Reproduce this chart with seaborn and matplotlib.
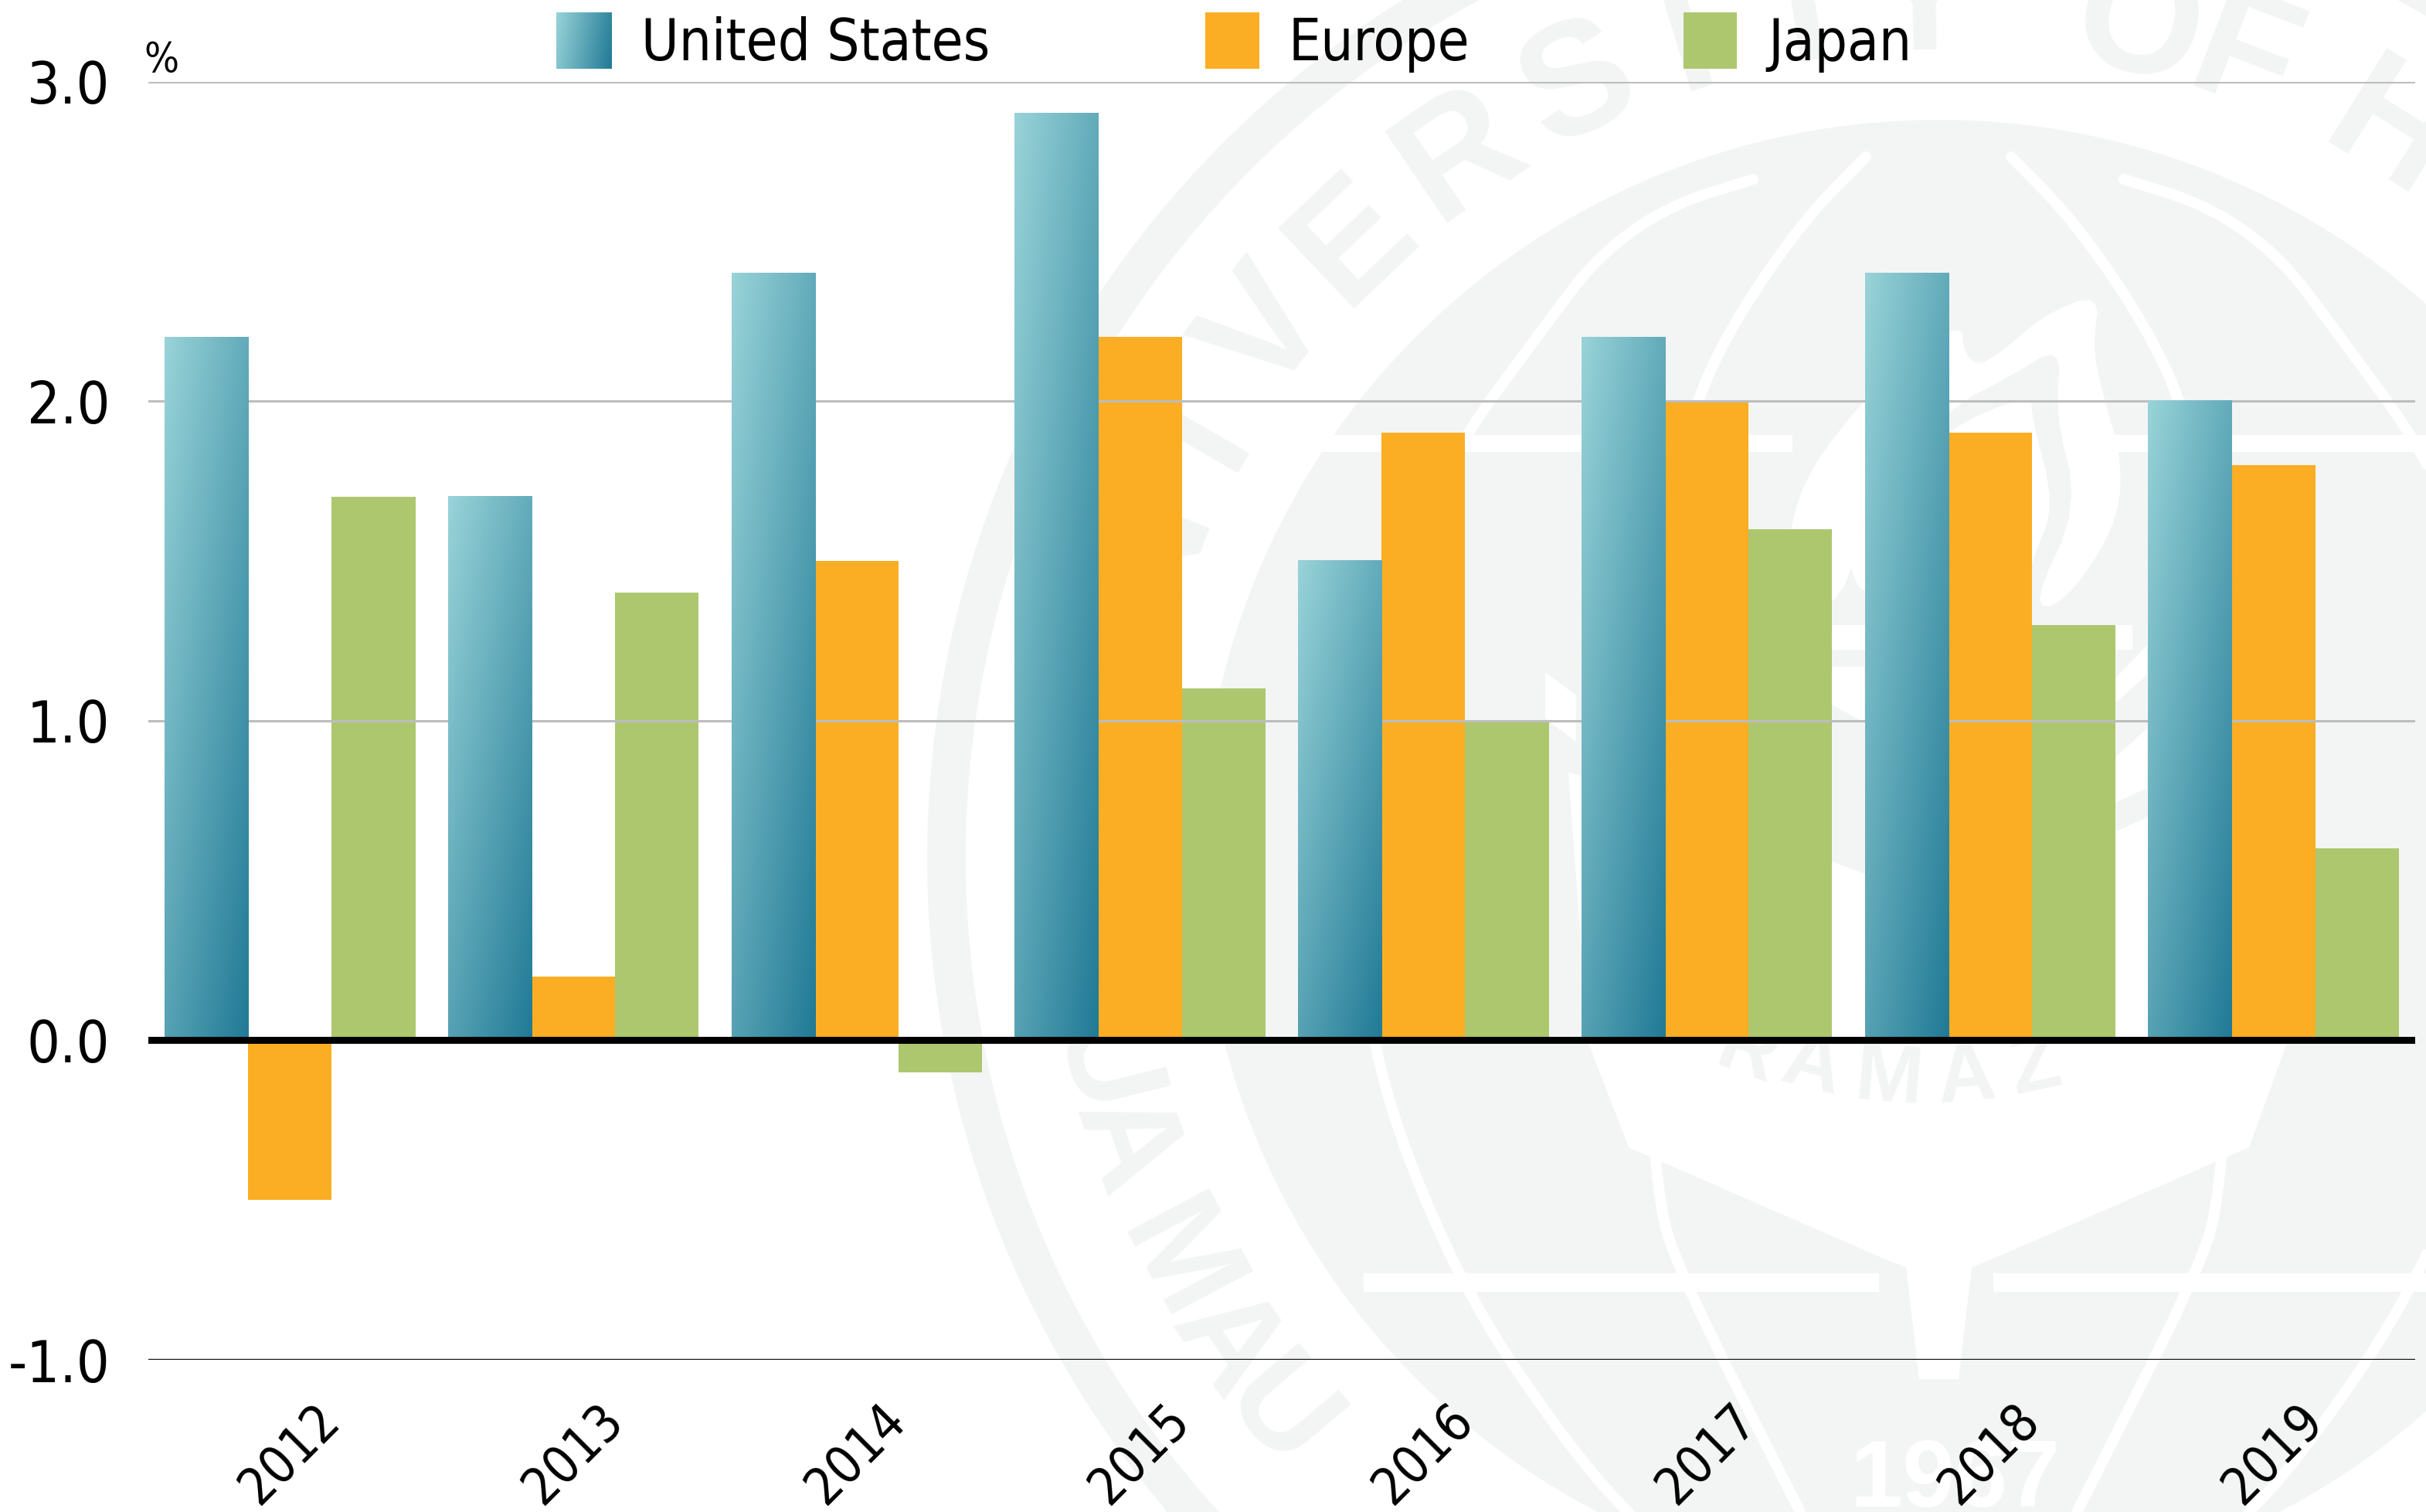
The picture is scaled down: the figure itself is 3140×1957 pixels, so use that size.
# %%
# Load libraries
import numpy as np
import pandas as pd
import matplotlib.pyplot as plt
import seaborn as sns
from matplotlib.colors import LinearSegmentedColormap
from matplotlib.patches import Circle, Polygon, Rectangle

# %%
# Data
years = ['2012', '2013', '2014', '2015', '2016', '2017', '2018', '2019']
united_states = [2.2, 1.7, 2.4, 2.9, 1.5, 2.2, 2.4, 2.0]
europe = [-0.5, 0.2, 1.5, 2.2, 1.9, 2.0, 1.9, 1.8]
japan = [1.7, 1.4, -0.1, 1.1, 1.0, 1.6, 1.3, 0.6]
regions = ['United States', 'Europe', 'Japan']
y_ticks = [-1.0, 0.0, 1.0, 2.0, 3.0]
y_tick_labels = ['-1.0', '0.0', '1.0', '2.0', '3.0']

ORANGE = '#fbae23'
GREEN = '#adc76f'
SEAL = '#f3f5f4'
W, H = 3140, 1957
teal = LinearSegmentedColormap.from_list('teal', ['#98d3d8', '#217a96'])

sns.set_theme(style='white')
plt.rcParams['font.family'] = ['DejaVu Sans']
plt.rcParams['font.stretch'] = 'condensed'

fig = plt.figure(figsize=(W / 100, H / 100), dpi=100, facecolor='white')


# rounds off the corners of the seal outlines
def smooth(pts, closed=False, rounds=3):
    pts = np.array(pts, dtype=float)
    for _ in range(rounds):
        nxt = np.roll(pts, -1, axis=0) if closed else pts[1:]
        cur = pts if closed else pts[:-1]
        q = 0.75 * cur + 0.25 * nxt
        r = 0.25 * cur + 0.75 * nxt
        mid = np.empty((len(q) * 2, 2))
        mid[0::2] = q
        mid[1::2] = r
        pts = mid if closed else np.vstack([pts[0], mid, pts[-1]])
    return pts


# %%
# Background seal, in pixel coordinates
bg = fig.add_axes([0, 0, 1, 1], zorder=0)
bg.set_xlim(0, W)
bg.set_ylim(H, 0)
bg.axis('off')
cx, cy = 2509, 1110

bg.add_patch(Circle((cx, cy), 1309, fc=SEAL, ec='none'))
bg.add_patch(Circle((cx, cy), 1259, fc='white', ec='none'))
disk = Circle((cx, cy), 955, fc=SEAL, ec='none')
bg.add_patch(disk)

# meridians, narrowing to a tip at the top
outer_y = [232, 266, 330, 421, 600, 800, 1110, 1352, 1655, 1891, 2000]
outer_dx = [240, 349, 440, 509, 640, 715, 745, 741, 626, 466, 360]
inner_y = [203, 280, 400, 513, 700, 900, 1110, 1543, 1649, 1957]
inner_dx = [94, 170, 255, 313, 365, 385, 390, 367, 335, 179]
for ys, dxs in [(outer_y, outer_dx), (inner_y, inner_dx)]:
    curve = smooth(list(zip(dxs, ys)))
    for sign in (-1, 1):
        line, = bg.plot(cx + sign * curve[:, 0], curve[:, 1], color='white', lw=10,
                        solid_capstyle='round')
        line.set_clip_path(disk)

# horizontal bars
for x0, x1, y0, y1 in [(1540, 2320, 563, 585), (2690, W, 563, 585),
                       (1765, 2432, 1648, 1672), (2580, W, 1648, 1672),
                       (2360, 2760, 809, 841)]:
    bg.add_patch(Rectangle((x0, y0), x1 - x0, y1 - y0, fc='white', ec='none'))

# central shield and needle
bg.add_patch(Polygon([(2030, 1000), (2056, 1350), (2108, 1485), (2445, 1632),
                      (2467, 1640), (2484, 1785), (2535, 1785), (2552, 1640),
                      (2573, 1632), (2911, 1485), (2960, 1350), (2990, 1000),
                      (2779, 1058), (2737, 1077), (2620, 1105), (2413, 1131),
                      (2371, 1115), (2240, 1058)], fc='white', ec='none'))
# shield wings
for pts in [[(2340, 863), (2413, 863), (2413, 935), (2340, 895)],
            [(2737, 879), (2779, 835), (2779, 873), (2737, 911)],
            [(2737, 981), (2779, 943), (2779, 1020), (2737, 1039)],
            [(2000, 870), (2040, 900), (2040, 960), (2000, 930)]]:
    bg.add_patch(Polygon(pts, fc='white', ec='none'))

# flame strokes
flame_right = [(2718, 379), (2646, 407), (2588, 458), (2557, 474), (2541, 452), (2539, 420),
               (2480, 450), (2414, 516), (2343, 605), (2316, 682), (2310, 784), (2387, 784),
               (2410, 656), (2521, 529), (2602, 487), (2669, 446), (2660, 535), (2691, 656),
               (2629, 784), (2669, 784), (2736, 688), (2749, 605), (2718, 497), (2709, 446)]
flame_left = [(2629, 509), (2521, 554), (2410, 656), (2387, 784), (2620, 784), (2629, 726),
              (2660, 656), (2630, 541)]
bg.add_patch(Polygon(smooth(flame_right, closed=True, rounds=2), fc='white', ec='none'))
bg.add_patch(Polygon(smooth(flame_left, closed=True, rounds=2), fc='white', ec='none'))

# lettering round the seal
top_letters = ['U', 'N', 'I', 'V', 'E', 'R', 'S', 'I', 'T', 'Y', 'O', 'F', 'H']
top_angles = [-77, -68.5, -60, -52, -43.5, -34.2, -25, -17, -9, -1, 13.6, 21, 32]
for ch, ang in zip(top_letters, top_angles):
    t = np.radians(ang)
    bg.text(cx + 1100 * np.sin(t), cy - 1100 * np.cos(t), ch, rotation=-ang,
            rotation_mode='anchor', ha='center', va='center', fontsize=150,
            color=SEAL, family='Liberation Sans', weight='bold', stretch='normal')
bottom_letters = ['U', 'A', 'M', 'A', 'U']
bottom_angles = [76, 70.6, 62, 55.6, 49.8]
for ch, ang in zip(bottom_letters, bottom_angles):
    t = np.radians(ang)
    bg.text(cx - 1120 * np.sin(t), cy + 1120 * np.cos(t), ch, rotation=-ang,
            rotation_mode='anchor', ha='center', va='center', fontsize=125,
            color=SEAL, family='Liberation Sans', weight='bold', stretch='normal')
for ch, x, y, rot in [('R', 2262, 1365, -20), ('A', 2345, 1382, -14), ('M', 2445, 1398, -5),
                      ('A', 2545, 1398, 5), ('Z', 2635, 1382, 12)]:
    bg.text(x, y, ch, rotation=rot, ha='center', va='center', fontsize=76,
            color=SEAL, family='Liberation Sans', weight='bold', stretch='normal')
bg.text(2530, 1918, '1967', ha='center', va='center', fontsize=88, color='white',
        family='Liberation Sans', weight='bold', stretch='normal')

# %%
# Bars
df = pd.DataFrame({'year': years * 3,
                   'region': np.repeat(regions, len(years)),
                   'value': united_states + europe + japan})

ax = fig.add_axes([192 / W, 1 - 1760 / H, (3126 - 192) / W, (1760 - 105.5) / H], zorder=1)
ax.patch.set_alpha(0)
sns.barplot(data=df, x='year', y='value', hue='region', hue_order=regions,
            palette=['#217a96', ORANGE, GREEN], saturation=1, width=0.885, gap=0,
            legend=False, linewidth=0, ax=ax)

# gradient fill on the United States bars
grid_u, grid_v = np.meshgrid(np.linspace(0, 1, 64), np.linspace(0, 1, 128))
diag = 0.45 * grid_u + 0.55 * grid_v
for bar in ax.containers[0]:
    x0, x1 = bar.get_x(), bar.get_x() + bar.get_width()
    top = bar.get_y() + bar.get_height()
    bar.set_visible(False)
    ax.imshow(diag, cmap=teal, vmin=0, vmax=1, extent=(x0, x1, bar.get_y(), top),
              aspect='auto', zorder=2, interpolation='bilinear')

ax.set_xlim(-0.5, len(years) - 0.5)
ax.set_ylim(-1, 3)
ax.set_xlabel('')
ax.set_ylabel('')
sns.despine(ax=ax, left=True, bottom=True)

# %%
# Grid and axis lines
for v in [1.0, 2.0, 3.0]:
    ax.axhline(v, color='#bdbdbd', lw=2.2, zorder=1)
ax.axhline(-1, color='#111111', lw=2.4, zorder=3)
ax.axhline(0, color='black', lw=6.5, zorder=4)

ax.set_yticks(y_ticks)
ax.set_yticklabels(y_tick_labels, fontsize=54, color='black')
ax.tick_params(axis='y', length=0, pad=36)
ax.set_xticks(range(len(years)))
ax.set_xticklabels(years, fontsize=48, color='black', rotation=45,
                   ha='center', va='center', rotation_mode='anchor')
ax.tick_params(axis='x', length=0, pad=88)

# %%
# Legend, percent sign
bg2 = fig.add_axes([0, 0, 1, 1], zorder=2)
bg2.set_xlim(0, W)
bg2.set_ylim(H, 0)
bg2.axis('off')
bg2.imshow(0.85 * grid_u + 0.15 * grid_v, cmap=teal, vmin=0, vmax=1,
           extent=(720, 792, 89, 16), aspect='auto', interpolation='bilinear')
bg2.set_xlim(0, W)
bg2.set_ylim(H, 0)
bg2.add_patch(Rectangle((1560, 16), 70, 73, fc=ORANGE, ec='none'))
bg2.add_patch(Rectangle((2179, 16), 69, 73, fc=GREEN, ec='none'))
for label, x in zip(regions, [830, 1668, 2288]):
    bg2.text(x, 78, label, fontsize=53.5, color='black', ha='left', va='baseline')
bg2.text(186, 93, '%', fontsize=38, color='black', ha='left', va='baseline')

fig.savefig('out.png', dpi=100)
